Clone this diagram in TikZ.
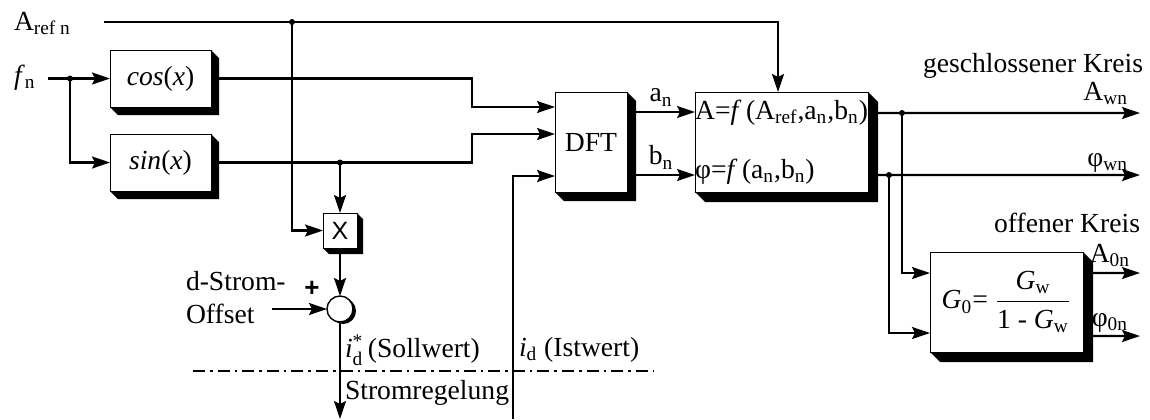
\documentclass[tikz,border=0pt]{standalone}
\usepackage{amsmath}
\usepackage{fontspec}
\setmainfont{Liberation Serif}
\setsansfont{Liberation Sans}
\usetikzlibrary{arrows.meta, positioning, calc, backgrounds}

\tikzset{
  blk/.style={rectangle, draw=black, line width=0.5pt, fill=white,
    inner sep=0pt, outer sep=0pt},
  sumc/.style={circle, draw=black, line width=0.7pt, fill=white,
    minimum size=13pt, inner sep=0pt, outer sep=0pt},
  arr/.style={-{Stealth[length=9pt,width=6pt,inset=1.5pt]}, line width=1.1pt},
  sep/.style={line width=1.1pt, dash pattern=on 6pt off 2.5pt on 1.3pt off 2.5pt},
  lbl/.style={inner sep=0pt, outer sep=0pt},
}

\begin{document}
\begin{tikzpicture}[x=0.5pt, y=-0.5pt,
                    every node/.style={font=\fontsize{13.8}{16.5}\selectfont}]
  \useasboundingbox (0,0) rectangle (1150,419);

  % ---- blocks ----
  \node[blk, minimum width=50.5pt, minimum height=28.5pt] (cos)
        at (160.5,78.5) {\textit{cos}(\textit{x})};
  \node[blk, minimum width=50.5pt, minimum height=28.5pt] (sin)
        at (160.5,162.5) {\textit{sin}(\textit{x})};
  \node[blk, minimum width=17pt, minimum height=17.5pt,
        font=\sffamily\fontsize{12.5}{15}\selectfont] (mul)
        at (340,230.5) {X};
  \node[sumc] (sum) at (340,309) {};
  \node[blk, minimum width=36pt, minimum height=50pt] (dft)
        at (591,142) {DFT};
  \node[blk, minimum width=86.5pt, minimum height=50pt, align=left] (calc)
        at (781.5,142)
        {A=\textit{f}\,(A\textsubscript{ref},a\textsubscript{n},b\textsubscript{n})\\[13pt]
         φ=\textit{f}\,(a\textsubscript{n},b\textsubscript{n})};
  \node[blk, minimum width=76.5pt, minimum height=50pt] (gw)
        at (1006.5,302)
        {\textit{G}\textsubscript{0}= $\dfrac{\text{\textit{G}\textsubscript{w}}}{\text{1 - \textit{G}\textsubscript{w}}}$};

  % ---- shadows ----
  \begin{scope}[on background layer]
    \foreach \n/\d in {cos/8, sin/8, mul/6, dft/9, calc/10, gw/10}
      \fill (\n.north east) -- ++(\d,\d) -- ($(\n.south east)+(\d,\d)$)
            -- ($(\n.south west)+(\d,\d)$) -- (\n.south west) -- cycle;
    \fill ($(sum.center)+(3,2)$) circle (6.5pt);
  \end{scope}

  % ---- points ----
  \coordinate (arefs) at (104,22);
  \coordinate (ja)    at (292,22);
  \coordinate (arefk) at (778,22);
  \coordinate (fns)   at (48,78.5);
  \coordinate (jf)    at (70,78.5);
  \coordinate (js)    at (mul.north |- sin.east);
  \coordinate (din1)  at ($(dft.north west)!0.15!(dft.south west)$);
  \coordinate (din2)  at ($(dft.north west)!0.42!(dft.south west)$);
  \coordinate (din3)  at ($(dft.north west)!0.84!(dft.south west)$);
  \coordinate (aout)  at ($(dft.north east)!0.2!(dft.south east)$);
  \coordinate (bout)  at ($(dft.north east)!0.83!(dft.south east)$);
  \coordinate (awo)   at ($(calc.north east)!0.21!(calc.south east)$);
  \coordinate (pwo)   at ($(calc.north east)!0.83!(calc.south east)$);
  \coordinate (awe)   at (1140,113);
  \coordinate (pwe)   at (1140,175);
  \coordinate (j1)    at (902,113);
  \coordinate (j2)    at (889,175);
  \coordinate (gin1)  at ($(gw.north west)!0.21!(gw.south west)$);
  \coordinate (gin2)  at ($(gw.north west)!0.81!(gw.south west)$);
  \coordinate (a0o)   at ($(gw.north east)!0.21!(gw.south east)$);
  \coordinate (p0o)   at ($(gw.north east)!0.84!(gw.south east)$);
  \coordinate (a0e)   at (1140,273);
  \coordinate (p0e)   at (1140,336);
  \coordinate (offs)  at (272,309);
  \coordinate (solle) at (340,419);
  \coordinate (iste)  at (513,419);

  % ---- arrows ----
  \draw[arr] (arefs) -- (arefk) -- (arefk |- calc.north);
  \draw[arr] (ja) |- (mul.west);
  \draw[arr] (fns) -- (cos.west);
  \draw[arr] (jf) |- (sin.west);
  \draw[arr] (cos.east) -- ++(261,0) |- (din1);
  \draw[arr] (sin.east) -- ++(261,0) |- (din2);
  \draw[arr] (js) -- (mul.north);
  \draw[arr] (mul.south) -- (sum.north);
  \draw[arr] (offs) -- (sum.west);
  \draw[arr] (sum.south) -- (solle);
  \draw[arr] (iste) |- (din3);
  \draw[arr] (aout) -- (aout -| calc.west)
        node[lbl, midway, above=3pt] (anl) {a\textsubscript{n}};
  \draw[arr] (bout) -- (bout -| calc.west)
        node[lbl, midway, above=3pt] (bnl) {b\textsubscript{n}};
  \draw[arr] (awo) -- (awe);
  \draw[arr] (pwo) -- (pwe);
  \draw[arr] (j1) |- (gin1);
  \draw[arr] (j2) |- (gin2);
  \draw[arr] (a0o) -- (a0e);
  \draw[arr] (p0o) -- (p0e);
  \foreach \c in {ja, jf, js, j1, j2}
    \fill (\c) circle (1.5pt);

  \draw[sep] (193,371) -- (653,371);

  % ---- labels ----
  \node[lbl, anchor=base west] (arefl) at (14,30) {A\textsubscript{ref n}};
  \node[lbl, anchor=base west] (fnl) at (14,84) {\textit{f}\textsubscript{n}};
  \node[lbl, anchor=base east] (gkl) at (1143,72) {geschlossener Kreis};
  \node[lbl, anchor=base east] (awl) at (1128,100) {A\textsubscript{wn}};
  \node[lbl, anchor=base east] (pwl) at (1128,166) {φ\textsubscript{wn}};
  \node[lbl, anchor=base east] (okl) at (1140,232) {offener Kreis};
  \node[lbl, anchor=base east] (a0l) at (1130,262) {A\textsubscript{0n}};
  \node[lbl, anchor=base east] (p0l) at (1128,326) {φ\textsubscript{0n}};
  \node[lbl, anchor=north west, align=left] (offl) at (186,271) {d-Strom-\\Offset};
  \node[lbl, font=\sffamily\bfseries\fontsize{13}{15}\selectfont] (plusl)
        at (312,289) {+};
  \node[lbl, anchor=west] (solll) at (345,350)
        {\textit{i}$^{\text{*}}_{\text{d}}$\,(Sollwert)};
  \node[lbl, anchor=west] (istl) at (519,350) {\textit{i}\textsubscript{d} (Istwert)};
  \node[lbl, anchor=west] (srl) at (345,393) {Stromregelung};
\end{tikzpicture}
\end{document}
